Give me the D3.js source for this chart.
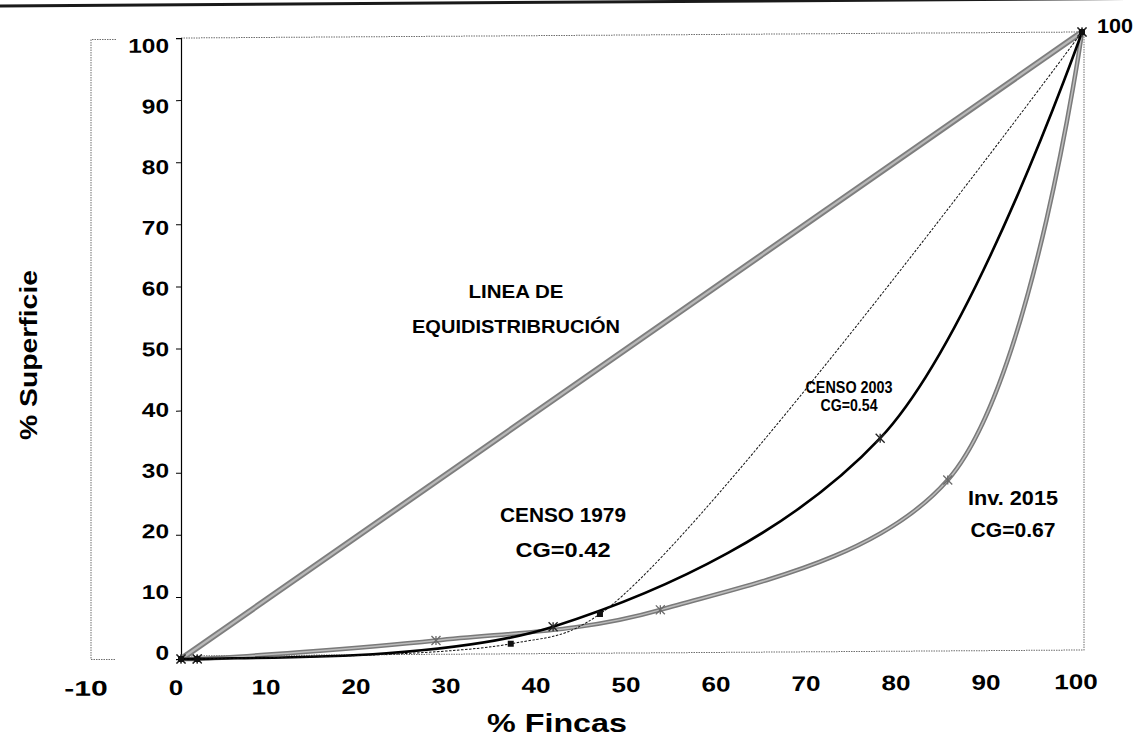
<!DOCTYPE html>
<html>
<head>
<meta charset="utf-8">
<script src="https://cdn.jsdelivr.net/npm/d3@7"></script>
<style>
  html, body { margin: 0; padding: 0; background: #fff; }
  svg { display: block; }
  text { font-family: "Liberation Sans", Arial, Helvetica, sans-serif; font-weight: bold; fill: #000; }
</style>
</head>
<body>
<svg id="chart" width="1142" height="736"></svg>
<script>
// ---- data ----
const xTickValues = [-10, 0, 10, 20, 30, 40, 50, 60, 70, 80, 90, 100];
const yTickValues = [0, 10, 20, 30, 40, 50, 60, 70, 80, 90, 100];

const equidistX = [0, 100];
const equidistY = [0, 100];

const censo1979X = [0, 1.8, 36.6, 46.5, 100];
const censo1979Y = [0, 0, 2.1, 6.8, 100];

const censo2003X = [0, 1.8, 41.3, 77.6, 100];
const censo2003Y = [0, 0, 4.8, 34.8, 100];

const inv2015X = [0, 1.8, 28.3, 53.2, 85.1, 100];
const inv2015Y = [0, 0, 2.7, 7.4, 28.0, 100];

const labelEquidist = ["LINEA DE", "EQUIDISTRIBRUCIÓN"];
const label1979 = ["CENSO 1979", "CG=0.42"];
const label2003 = ["CENSO 2003", "CG=0.54"];
const label2015 = ["Inv. 2015", "CG=0.67"];
const xTitle = "% Fincas";
const yTitle = "% Superficie";

// ---- drawing ----
const svg = d3.select("#chart");
const zip = (xs, ys) => xs.map((v, i) => [v, ys[i]]);

const x = d3.scaleLinear().domain([0, 100]).range([181, 1082]);
const y = d3.scaleLinear().domain([0, 100]).range([659, 38]);
const xLab = d3.scaleLinear().domain([-10, 100]).range([86, 1076]);
const yLab = d3.scaleLinear().domain([0, 100]).range([652, 45]);

// page rule at top
svg.append("line").attr("x1", 0).attr("y1", 6).attr("x2", 1142).attr("y2", -1.6)
  .attr("stroke", "#1a1a1a").attr("stroke-width", 3);

// slight scan skew
const g = svg.append("g").attr("transform", "translate(0,1.21) skewY(-0.382)");

const dotted = sel => sel.attr("stroke", "#6f6f6f").attr("stroke-width", 1)
  .attr("stroke-dasharray", "1.5,1").attr("fill", "none");

// left bracket
g.append("path").attr("d", `M116,${y(100) + 1}H91V${y(0)}H116`).call(dotted);
// plot box (top, right, bottom)
g.append("path").attr("d", `M${x(0)},${y(100)}H${x(100) + 2}V${y(0) - 3}H${x(0)}`).call(dotted);

// y axis
const yAxis = d3.axisLeft(y).tickValues(yTickValues).tickSize(5).tickFormat("");
const ya = g.append("g").attr("transform", `translate(${x(0)},0)`).call(yAxis);
ya.select(".domain").attr("stroke", "#000").attr("stroke-width", 1.2);
ya.selectAll(".tick line").attr("stroke", "#000");

// y tick labels
g.selectAll(".ylab").data(yTickValues).enter().append("text")
  .attr("class", "ylab")
  .attr("x", 169).attr("y", d => yLab(d) + 7.5)
  .attr("text-anchor", "end").attr("font-size", 20)
  .attr("textLength", d => String(d).length * 13.6)
  .attr("lengthAdjust", "spacingAndGlyphs")
  .text(d => d);

// x tick labels
g.selectAll(".xlab").data(xTickValues).enter().append("text")
  .attr("class", "xlab")
  .attr("x", d => xLab(d)).attr("y", 695)
  .attr("text-anchor", "middle").attr("font-size", 21)
  .attr("textLength", d => String(d).length * 14.5)
  .attr("lengthAdjust", "spacingAndGlyphs")
  .text(d => d);

// right "100" label at the curves' end
g.append("text").attr("x", 1115).attr("y", y(100) + 1)
  .attr("text-anchor", "middle").attr("font-size", 20)
  .attr("textLength", 36).attr("lengthAdjust", "spacingAndGlyphs").text("100");

// lines
const straight = d3.line().x(d => x(d[0])).y(d => y(d[1]));
const smooth = d3.line().x(d => x(d[0])).y(d => y(d[1])).curve(d3.curveCatmullRom.alpha(0.5));

// equidistribution line
g.append("path").datum(zip(equidistX, equidistY)).attr("d", straight)
  .attr("fill", "none").attr("stroke", "#7e7e7e").attr("stroke-width", 6);
g.append("path").datum(zip(equidistX, equidistY)).attr("d", straight)
  .attr("fill", "none").attr("stroke", "#b8b8b8").attr("stroke-width", 2.2);

// Inv 2015 (gray)
g.append("path").datum(zip(inv2015X, inv2015Y)).attr("d", smooth)
  .attr("fill", "none").attr("stroke", "#7a7a7a").attr("stroke-width", 4.5);
g.append("path").datum(zip(inv2015X, inv2015Y)).attr("d", smooth)
  .attr("fill", "none").attr("stroke", "#bdbdbd").attr("stroke-width", 1.5);

// Censo 2003 (black solid)
g.append("path").datum(zip(censo2003X, censo2003Y)).attr("d", smooth)
  .attr("fill", "none").attr("stroke", "#000").attr("stroke-width", 2.6);

// Censo 1979 (thin dashed)
g.append("path").datum(zip(censo1979X, censo1979Y)).attr("d", smooth)
  .attr("fill", "none").attr("stroke", "#111").attr("stroke-width", 1)
  .attr("stroke-dasharray", "2.5,1.5");

// markers
const star = d3.symbol().type(d3.symbolCross).size(40);
const asterisk = (sel, color) => {
  sel.each(function(d) {
    const cx = x(d[0]), cy = y(d[1]), r = 4.5;
    const s = d3.select(this);
    s.append("line").attr("x1", cx - r).attr("y1", cy - r).attr("x2", cx + r).attr("y2", cy + r);
    s.append("line").attr("x1", cx - r).attr("y1", cy + r).attr("x2", cx + r).attr("y2", cy - r);
    s.append("line").attr("x1", cx).attr("y1", cy - r).attr("x2", cx).attr("y2", cy + r);
    s.selectAll("line").attr("stroke", color).attr("stroke-width", 1.3);
  });
};
g.selectAll(".m2015").data(zip(inv2015X, inv2015Y)).enter().append("g")
  .attr("class", "m2015").call(asterisk, "#6a6a6a");
g.selectAll(".m2003").data(zip(censo2003X, censo2003Y)).enter().append("g")
  .attr("class", "m2003").call(asterisk, "#222");
g.selectAll(".m1979").data(zip(censo1979X, censo1979Y)).enter().append("rect")
  .attr("class", "m1979")
  .attr("x", d => x(d[0]) - 3).attr("y", d => y(d[1]) - 3)
  .attr("width", 6).attr("height", 6).attr("fill", "#111");

// annotations (page coordinates)
function twoLine(lines, cx, y1, y2, fs, w1, w2) {
  svg.append("text").attr("x", cx).attr("y", y1).attr("text-anchor", "middle")
    .attr("font-size", fs).attr("textLength", w1).attr("lengthAdjust", "spacingAndGlyphs").text(lines[0]);
  svg.append("text").attr("x", cx).attr("y", y2).attr("text-anchor", "middle")
    .attr("font-size", fs).attr("textLength", w2).attr("lengthAdjust", "spacingAndGlyphs").text(lines[1]);
}
twoLine(labelEquidist, 516, 298, 333, 17.5, 95, 208);
twoLine(label1979, 563, 522, 557, 20, 126, 95);
twoLine(label2003, 849, 393, 411, 16, 87, 57);
twoLine(label2015, 1013, 505, 537, 21, 90, 85);

// axis titles
svg.append("text").attr("x", 557).attr("y", 732).attr("text-anchor", "middle")
  .attr("font-size", 25).attr("textLength", 140).attr("lengthAdjust", "spacingAndGlyphs").text(xTitle);
svg.append("text").attr("transform", "translate(37,355) rotate(-90)").attr("text-anchor", "middle")
  .attr("font-size", 23).attr("textLength", 170).attr("lengthAdjust", "spacingAndGlyphs").text(yTitle);
</script>
</body>
</html>
